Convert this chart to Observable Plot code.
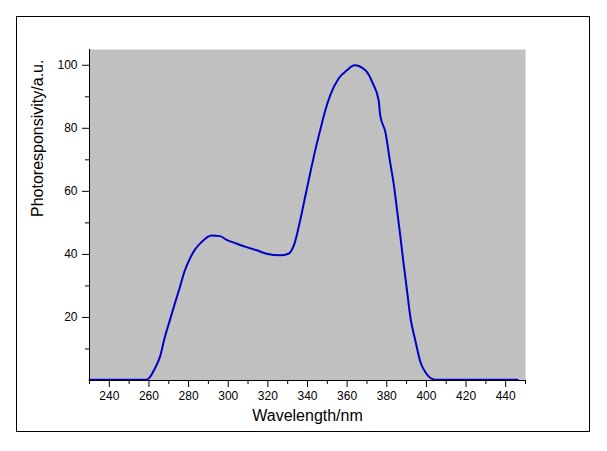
<!DOCTYPE html>
<html>
<head>
<meta charset="utf-8">
<script src="https://cdn.jsdelivr.net/npm/d3@7"></script>
<script src="https://cdn.jsdelivr.net/npm/@observablehq/plot@0.6"></script>
<style>
  html, body { margin: 0; padding: 0; background: #fff; }
  #wrap { position: relative; width: 607px; height: 451px; font-family: "Liberation Sans", Arial, sans-serif; }
  #border { position: absolute; left: 16px; top: 16px; width: 572px; height: 414px; border: 1px solid #000; pointer-events: none; }
</style>
</head>
<body>
<div id="wrap"><div id="border"></div></div>
<script>
const wavelength = [230, 258.7, 260.4, 262.9, 265.5, 268, 270.5, 273, 275.6, 278.1, 280.6, 283.2, 286.5, 291.6, 295.8, 299.2, 304.3, 309.3, 314.4, 319.4, 326.2, 330.4, 333.2, 336.3, 338.8, 341.3, 343.9, 346.4, 349, 351.5, 355.7, 359.9, 363.7, 369.2, 373, 375.9, 376.7, 379.3, 381.8, 383.5, 385.2, 386.9, 388.5, 390.2, 391.9, 394.4, 397, 399.5, 402.9, 405.4, 446];
const photoresponse = [0.2, 0.2, 1.0, 3.7, 7.4, 13.7, 19.0, 24.3, 29.6, 34.9, 38.6, 41.5, 43.9, 46.0, 45.8, 44.6, 43.4, 42.3, 41.3, 40.2, 39.7, 40.2, 43.0, 50.8, 58.2, 65.6, 73.0, 79.4, 85.7, 90.5, 95.8, 98.4, 100.0, 98.4, 94.2, 88.9, 84.1, 78.8, 68.8, 62.4, 54.0, 45.5, 37.0, 28.6, 20.1, 12.7, 5.8, 2.6, 0.5, 0.2, 0.2];
const xMajorTicks = [240, 260, 280, 300, 320, 340, 360, 380, 400, 420, 440];
const xMinorTicks = [230, 250, 270, 290, 310, 330, 350, 370, 390, 410, 430, 450];
const yMajorTicks = [20, 40, 60, 80, 100];
const yMinorTicks = [10, 30, 50, 70, 90];
const xTitle = "Wavelength/nm";
const yTitle = "Photoresponsivity/a.u.";

const data = wavelength.map((w, i) => ({w, v: photoresponse[i]}));

const chart = Plot.plot({
  width: 607,
  height: 451,
  marginLeft: 89,
  marginRight: 82,
  marginTop: 49,
  marginBottom: 71,
  style: {fontFamily: "'Liberation Sans', Arial, sans-serif", color: "#000", background: "transparent", overflow: "visible"},
  x: {domain: [230, 450]},
  y: {domain: [0, 105]},
  marks: [
    Plot.frame({fill: "#c0c0c0", stroke: "none"}),
    Plot.line(data, {x: "w", y: "v", stroke: "#0000c8", strokeWidth: 2, curve: "monotone-x"}),
    Plot.ruleX([230], {stroke: "#000"}),
    Plot.ruleY([0], {stroke: "#000"}),
    Plot.axisX({ticks: xMajorTicks, tickSize: 7, tickPadding: 4, fontSize: 12, label: null}),
    Plot.axisX({ticks: xMinorTicks, tickSize: 4, tickFormat: () => "", label: null}),
    Plot.axisY({ticks: yMajorTicks, tickSize: 7, tickPadding: 5, fontSize: 12, label: null}),
    Plot.axisY({ticks: yMinorTicks, tickSize: 4, tickFormat: () => "", label: null}),
    Plot.text([xTitle], {frameAnchor: "bottom", dy: 35, fontSize: 16, fill: "#000", lineAnchor: "middle"}),
    Plot.text([yTitle], {frameAnchor: "left", dx: -52, dy: 2, rotate: -90, fontSize: 16, fill: "#000", lineAnchor: "middle"})
  ]
});
chart.style.position = "absolute";
chart.style.left = "0px";
chart.style.top = "0px";
document.getElementById("wrap").appendChild(chart);
</script>
</body>
</html>
